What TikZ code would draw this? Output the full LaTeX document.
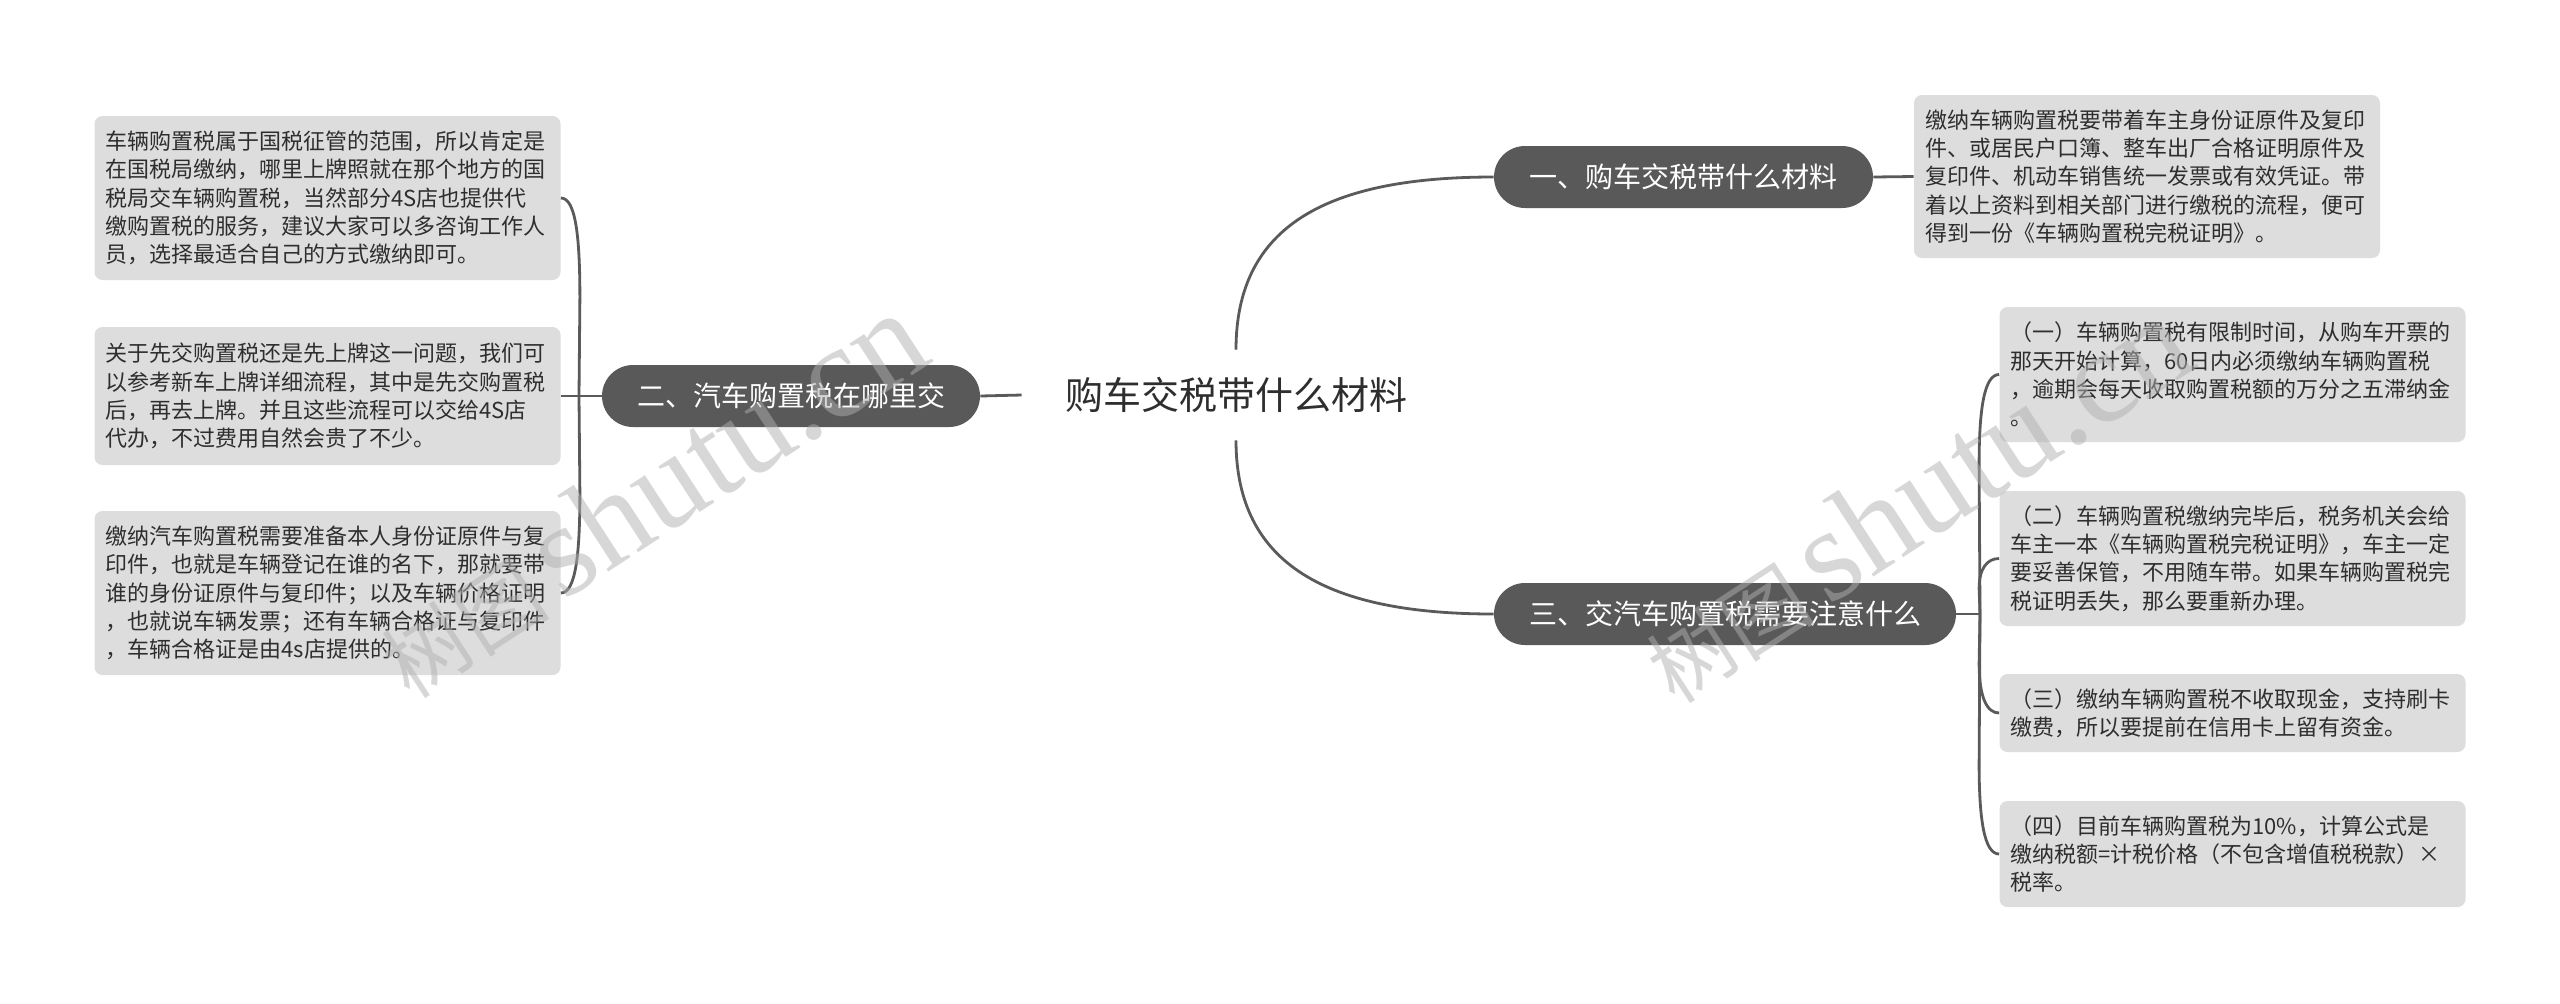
\documentclass[tikz,border=0pt]{standalone}
\usepackage{fontspec}
\setmainfont{Noto Sans CJK SC}
\newfontfamily\wmserif{Liberation Serif}
\usetikzlibrary{calc}
\definecolor{boxgray}{HTML}{DDDDDD}
\definecolor{pillgray}{HTML}{595959}
\definecolor{linegray}{HTML}{5A5A5A}
\definecolor{textdark}{HTML}{2E2E2E}
\definecolor{wmgray}{HTML}{B0B0B0}
\tikzset{
  infobox/.style={rectangle, rounded corners=4pt, fill=boxgray, text=textdark,
    font=\fontsize{11pt}{14.15pt}\selectfont, align=left, text width=222pt,
    inner xsep=5.5pt, inner ysep=0pt},
  pill/.style={rectangle, rounded corners=15.5pt, fill=pillgray, text=white,
    font=\fontsize{14pt}{14pt}\selectfont, minimum height=31pt, inner xsep=0pt},
  conn/.style={draw=linegray, line width=1.4pt},
  wmark/.style={text=wmgray, text opacity=0.5, rotate=33}
}
\begin{document}
\begin{tikzpicture}[x=0.5pt,y=-0.5pt]
\path[use as bounding box, fill=white] (0,0) rectangle (2560,1003);

% central topic
\node[font=\fontsize{19pt}{19pt}\selectfont, text=textdark, inner xsep=21.5pt, inner ysep=0pt, minimum height=45pt] (c) at (1236,395) {购车交税带什么材料};

% main branches
\node[pill, minimum width=189.5pt] (P1) at (1683.5,177) {一、购车交税带什么材料};
\node[pill, minimum width=189pt] (P2) at (791,396) {二、汽车购置税在哪里交};
\node[pill, minimum width=231pt] (P3) at (1725,614) {三、交汽车购置税需要注意什么};

% right top box
\node[infobox, minimum height=81.5pt] (R0) at (2147,176.5) {缴纳车辆购置税要带着车主身份证原件及复印\\件、或居民户口簿、整车出厂合格证明原件及\\复印件、机动车销售统一发票或有效凭证。带\\着以上资料到相关部门进行缴税的流程，便可\\得到一份《车辆购置税完税证明》。};

% left boxes
\node[infobox, minimum height=82pt] (L1) at (327.5,198) {车辆购置税属于国税征管的范围，所以肯定是\\在国税局缴纳，哪里上牌照就在那个地方的国\\税局交车辆购置税，当然部分4S店也提供代\\缴购置税的服务，建议大家可以多咨询工作人\\员，选择最适合自己的方式缴纳即可。};
\node[infobox, minimum height=69pt] (L2) at (327.5,396) {关于先交购置税还是先上牌这一问题，我们可\\以参考新车上牌详细流程，其中是先交购置税\\后，再去上牌。并且这些流程可以交给4S店\\代办，不过费用自然会贵了不少。};
\node[infobox, minimum height=82pt] (L3) at (327.5,593) {缴纳汽车购置税需要准备本人身份证原件与复\\印件，也就是车辆登记在谁的名下，那就要带\\谁的身份证原件与复印件；以及车辆价格证明\\，也就说车辆发票；还有车辆合格证与复印件\\，车辆合格证是由4s店提供的。};

% right boxes
\node[infobox, minimum height=67.5pt] (R1) at (2232.5,374.5) {（一）车辆购置税有限制时间，从购车开票的\\那天开始计算，60日内必须缴纳车辆购置税\\，逾期会每天收取购置税额的万分之五滞纳金\\。};
\node[infobox, minimum height=67.5pt] (R2) at (2232.5,558.5) {（二）车辆购置税缴纳完毕后，税务机关会给\\车主一本《车辆购置税完税证明》，车主一定\\要妥善保管，不用随车带。如果车辆购置税完\\税证明丢失，那么要重新办理。};
\node[infobox, minimum height=39pt] (R3) at (2232.5,713) {（三）缴纳车辆购置税不收取现金，支持刷卡\\缴费，所以要提前在信用卡上留有资金。};
\node[infobox, minimum height=53pt] (R4) at (2232.5,854) {（四）目前车辆购置税为10\%，计算公式是\\缴纳税额=计税价格（不包含增值税税款）×\\税率。};

% connectors from center
\draw[conn] (c.west) -- (P2.east);
\draw[conn] (c.north) .. controls ($(c.north)+(0,-125)$) and ($(P1.west)+(-165,0)$) .. (P1.west);
\draw[conn] (c.south) .. controls ($(c.south)+(0,125)$) and ($(P3.west)+(-165,0)$) .. (P3.west);
\draw[conn] (P1.east) -- (R0.west);

% left bracket
\coordinate (JL) at (579,396);
\draw[conn] (P2.west) -- (L2.east);
\draw[conn] (JL) -- ($(L1.east)+(19,100)$) .. controls ($(L1.east)+(19,40)$) and ($(L1.east)+(15,0)$) .. (L1.east);
\draw[conn] (JL) -- ($(L3.east)+(19,-100)$) .. controls ($(L3.east)+(19,-40)$) and ($(L3.east)+(15,0)$) .. (L3.east);

% right bracket
\coordinate (JR) at (1980,614);
\draw[conn] (P3.east) -- (JR);
\draw[conn] (JR) -- ($(R1.west)+(-20,90)$) .. controls ($(R1.west)+(-20,35)$) and ($(R1.west)+(-15,0)$) .. (R1.west);
\draw[conn] (JR) -- ($(R2.west)+(-20,30)$) .. controls ($(R2.west)+(-20,10)$) and ($(R2.west)+(-12,0)$) .. (R2.west);
\draw[conn] (JR) -- ($(R3.west)+(-20,-50)$) .. controls ($(R3.west)+(-20,-15)$) and ($(R3.west)+(-12,0)$) .. (R3.west);
\draw[conn] (JR) -- ($(R4.west)+(-20,-90)$) .. controls ($(R4.west)+(-20,-35)$) and ($(R4.west)+(-15,0)$) .. (R4.west);

% watermarks
\node[wmark] (wm1) at (650,495) {\fontsize{42pt}{42pt}\selectfont 树图\,{\wmserif\fontsize{66pt}{66pt}\selectfont shutu.cn}};
\node[wmark] (wm2) at (1915,500) {\fontsize{42pt}{42pt}\selectfont 树图\,{\wmserif\fontsize{66pt}{66pt}\selectfont shutu.cn}};
\end{tikzpicture}
\end{document}
